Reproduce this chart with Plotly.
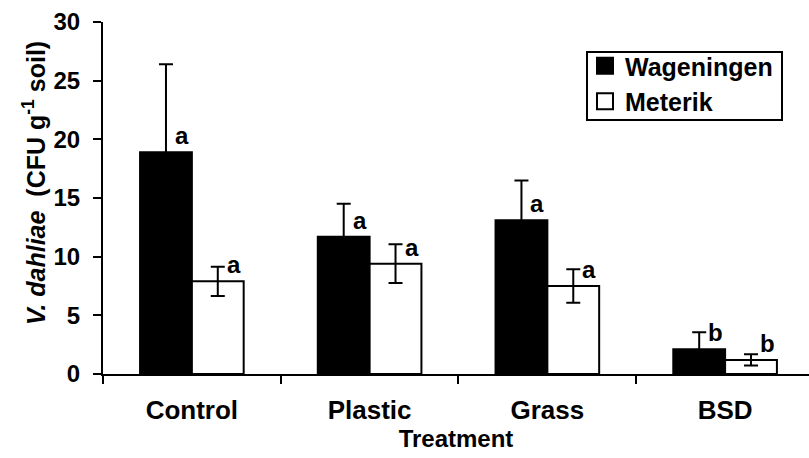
import plotly.graph_objects as go

categories = ["Control", "Plastic", "Grass", "BSD"]
wageningen = [18.9, 11.7, 13.1, 2.1]
wageningen_err = [7.5, 2.8, 3.4, 1.45]
meterik = [7.9, 9.4, 7.5, 1.2]
meterik_err = [1.25, 1.65, 1.42, 0.48]
letters_w = ["a", "a", "a", "b"]
letters_m = ["a", "a", "a", "b"]

FONT = "Liberation Sans, Arial, Helvetica, sans-serif"
BARGAP = 0.417
half = (1 - BARGAP) / 4

# plot-area pixel geometry (for paper-referenced decorations)
L, R, T, B = 103, 809, 22, 374
PW, PH = R - L, B - T


def px(x):
    return (x - L) / PW


def py(y):
    return (B - y) / PH


fig = go.Figure()
fig.add_trace(go.Bar(
    x=categories, y=wageningen, name="Wageningen", showlegend=False,
    marker=dict(color="black", line=dict(color="black", width=2)),
    error_y=dict(type="data", array=wageningen_err, visible=True,
                 color="black", thickness=2, width=7),
))
fig.add_trace(go.Bar(
    x=categories, y=meterik, name="Meterik", showlegend=False,
    marker=dict(color="white", line=dict(color="black", width=2)),
    error_y=dict(type="data", array=meterik_err, visible=True,
                 color="black", thickness=2, width=7),
))
# legend entries
fig.add_trace(go.Scatter(
    x=[None], y=[None], mode="markers", name="Wageningen",
    marker=dict(symbol="square", size=16, color="black",
                line=dict(color="black", width=2)),
))
fig.add_trace(go.Scatter(
    x=[None], y=[None], mode="markers", name="Meterik",
    marker=dict(symbol="square", size=16, color="white",
                line=dict(color="black", width=2)),
))

for i, (v, l) in enumerate(zip(wageningen, letters_w)):
    fig.add_annotation(x=i - half, y=v, text=l, showarrow=False,
                       xanchor="left", yanchor="bottom", xshift=7, yshift=1,
                       font=dict(family=FONT, size=24, color="black", weight="bold"))
for i, (v, l) in enumerate(zip(meterik, letters_m)):
    fig.add_annotation(x=i + half, y=v, text=l, showarrow=False,
                       xanchor="left", yanchor="bottom", xshift=7, yshift=1,
                       font=dict(family=FONT, size=24, color="black", weight="bold"))

# y-axis title
fig.add_annotation(
    xref="paper", yref="paper", x=px(34), y=py(183),
    text="<i>V. dahliae</i>&nbsp; (CFU g<sup>-1</sup> soil)",
    textangle=-90, showarrow=False, xanchor="center", yanchor="middle",
    font=dict(family=FONT, size=25, color="black", weight="bold"),
)

# legend frame
fig.add_shape(type="rect", xref="paper", yref="paper",
              x0=px(587), x1=px(782), y0=py(120), y1=py(52),
              line=dict(color="black", width=2), fillcolor="rgba(0,0,0,0)")

fig.update_layout(
    width=809, height=458,
    margin=dict(l=L, r=0, t=T, b=458 - B, pad=0),
    paper_bgcolor="white", plot_bgcolor="white",
    barmode="group", bargap=BARGAP, bargroupgap=0,
    font=dict(family=FONT, color="black"),
    legend=dict(
        x=px(585), y=py(43), xanchor="left", yanchor="top",
        borderwidth=0, bgcolor="rgba(255,255,255,0)",
        font=dict(family=FONT, size=25, color="black", weight="bold"),
        tracegroupgap=0, itemwidth=30,
    ),
    xaxis=dict(
        type="category", range=[-0.5, 3.472], tickson="boundaries",
        ticks="outside", ticklen=8, tickwidth=2, tickcolor="black",
        showline=True, linewidth=2, linecolor="black", showgrid=False,
        ticklabelstandoff=12,
        tickfont=dict(family=FONT, size=26, color="black", weight="bold"),
        title=dict(text="Treatment", standoff=3,
                   font=dict(family=FONT, size=24, color="black", weight="bold")),
    ),
    yaxis=dict(
        range=[0, 30], tickvals=[0, 5, 10, 15, 20, 25, 30],
        ticks="outside", ticklen=8, tickwidth=2, tickcolor="black",
        showline=True, linewidth=2, linecolor="black", showgrid=False,
        zeroline=False, ticklabelstandoff=8,
        tickfont=dict(family=FONT, size=24, color="black", weight="bold"),
    ),
)

fig.write_html("out.html")
